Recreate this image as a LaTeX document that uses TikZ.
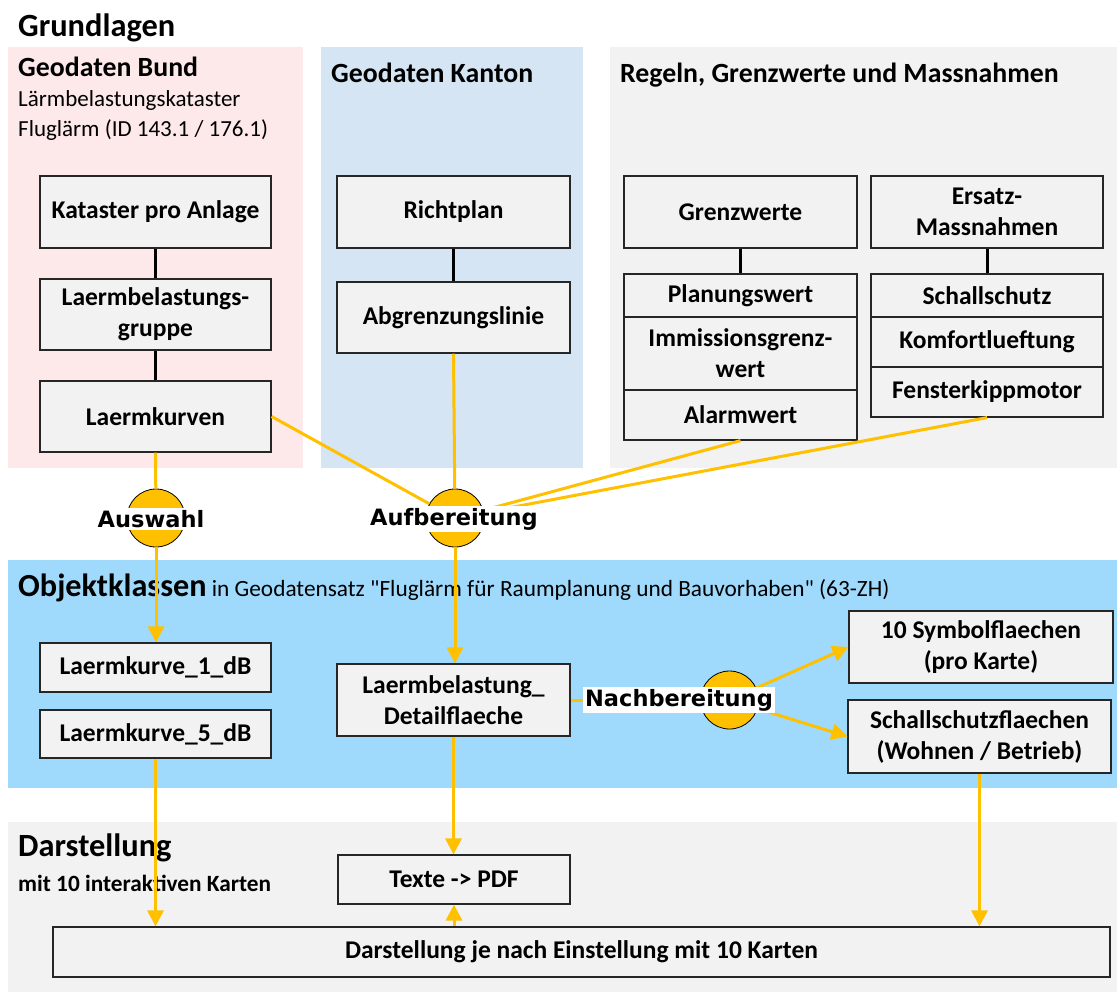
\documentclass[tikz,border=0pt]{standalone}
\usepackage{fontspec}
\setmainfont{Carlito}
\newfontfamily\hubfont{DejaVu Sans}
\usetikzlibrary{arrows.meta}
\definecolor{bundbg}{HTML}{FDE9E9}
\definecolor{kantonbg}{HTML}{D5E5F3}
\definecolor{regelbg}{HTML}{F2F2F2}
\definecolor{objbg}{HTML}{9FDAFD}
\definecolor{flow}{HTML}{FFC000}
\colorlet{boxfill}{regelbg}
\newcommand\fsz[2]{\fontsize{#1}{#2}\selectfont}
\tikzset{
  box/.style={draw=black!85, line width=1.2pt, fill=boxfill, align=center,
    inner sep=0pt, font=\fsz{25.5}{31}\bfseries},
  link/.style={draw=black, line width=3pt},
  flowline/.style={draw=flow, line width=3pt},
  flowarrow/.style={flowline, -{Triangle[length=16pt,width=16pt]}},
  hub/.style={circle, draw=black, line width=0.8pt, fill=flow,
    minimum size=58pt, inner sep=0pt},
  hublabel/.style={fill=white, inner xsep=2pt, inner ysep=2pt,
    font=\hubfont\bfseries\fsz{22.5}{26}},
  head/.style={anchor=base west, inner sep=0pt, font=\bfseries\fsz{27.8}{33}},
  title/.style={anchor=base west, inner sep=0pt, font=\bfseries\fsz{32.4}{38}},
  note/.style={anchor=base west, inner sep=0pt, font=\fsz{23}{28}},
}

\begin{document}
\begin{tikzpicture}[x=1pt,y=-1pt]
\useasboundingbox (0,0) rectangle (1119,994);
\fill[bundbg] (8,47) rectangle (303,468);
\fill[kantonbg] (321,47) rectangle (583,468);
\fill[regelbg] (610,47) rectangle (1117,468);
\fill[objbg] (8,560) rectangle (1117,788);
\fill[regelbg] (8,822) rectangle (1117,992);

\node[title] (tgrund) at (18,36) {Grundlagen};
\node[head] (tbund) at (18,76) {Geodaten Bund};
\node[note] (tbund1) at (18,106) {Lärmbelastungskataster};
\node[note] (tbund2) at (18,136) {Fluglärm (ID 143.1 / 176.1)};
\node[head] (tkanton) at (331,82) {Geodaten Kanton};
\node[head] (tregeln) at (620,82) {Regeln, Grenzwerte und Massnahmen};
\node[note, font=\fsz{23.3}{28}] (tobj) at (18,596) {{\fsz{32.2}{38}\bfseries Objektklassen} in Geodatensatz \textquotedbl Fluglärm für Raumplanung und Bauvorhaben\textquotedbl{} (63-ZH)};
\node[title] (tdar) at (18,856) {Darstellung};
\node[note, font=\bfseries\fsz{23.3}{28}] (tdar1) at (18,891) {mit 10 interaktiven Karten};

\node[box, minimum width=231pt, minimum height=72pt] (kat) at (155.5,212) {Kataster pro Anlage};
\node[box, minimum width=231pt, minimum height=71pt] (lbg) at (155.5,314.5) {Laermbelastungs-\\gruppe};
\node[box, minimum width=231pt, minimum height=71pt] (lkv) at (155.5,416.5) {Laermkurven};
\node[box, minimum width=233pt, minimum height=72pt] (rpl) at (453.5,212) {Richtplan};
\node[box, minimum width=233pt, minimum height=71pt] (abg) at (453.5,317.5) {Abgrenzungslinie};
\node[box, minimum width=233pt, minimum height=72pt] (grw) at (740.5,212) {Grenzwerte};
\node[box, minimum width=233pt, minimum height=43pt] (pw) at (740.5,295.5) {Planungswert};
\node[box, minimum width=233pt, minimum height=73pt] (igw) at (740.5,353.5) {Immissionsgrenz-\\wert};
\node[box, minimum width=233pt, minimum height=50pt] (aw) at (740.5,415) {Alarmwert};
\node[box, minimum width=232pt, minimum height=72pt] (ers) at (987,212) {Ersatz-\\Massnahmen};
\node[box, minimum width=232pt, minimum height=43pt] (ss) at (987,295.5) {Schallschutz};
\node[box, minimum width=232pt, minimum height=50pt] (kl) at (987,342) {Komfortlueftung};
\node[box, minimum width=232pt, minimum height=50pt] (fk) at (987,392) {Fensterkippmotor};

\node[box, minimum width=231pt, minimum height=49pt] (lk1) at (155.5,667.5) {Laermkurve\_1\_dB};
\node[box, minimum width=231pt, minimum height=48pt] (lk5) at (155.5,734) {Laermkurve\_5\_dB};
\node[box, minimum width=233pt, minimum height=72pt] (det) at (453.5,700) {Laermbelastung\_\\Detailflaeche};
\node[box, minimum width=264pt, minimum height=72pt] (sym) at (981,647) {10 Symbolflaechen\\(pro Karte)};
\node[box, minimum width=263pt, minimum height=73pt] (ssf) at (979.5,736.5) {Schallschutzflaechen\\(Wohnen / Betrieb)};
\node[box, minimum width=232pt, minimum height=49pt] (tpdf) at (454,879.5) {Texte -> PDF};
\node[box, minimum width=1057pt, minimum height=50pt] (dar) at (581.5,952) {Darstellung je nach Einstellung mit 10 Karten};

\foreach \a/\b in {kat/lbg, lbg/lkv, rpl/abg, grw/pw, ers/ss}
  \draw[link] (\a.south) -- (\b.north);

\node[hub] (aus) at (156,518) {};
\node[hub] (auf) at (455,518) {};
\node[hub] (nach) at (729.5,700) {};

\foreach \src in {lkv.east, abg.south, aw.south, fk.south}
  \draw[flowline] (\src) -- (auf);
\draw[flowline] (lkv.south) -- (aus);
\draw[flowline] (det.east) -- (nach);
\draw[flowarrow] (aus) -- (aus |- lk1.north);
\draw[flowarrow] (auf) -- (auf |- det.north);
\draw[flowarrow] (nach) -- (sym.west);
\draw[flowarrow] (nach) -- (ssf.west);
\draw[flowarrow] (lk5.south) -- (lk5.south |- dar.north);
\draw[flowarrow] (det.south) -- (det.south |- tpdf.north);
\draw[flowarrow] (tpdf.south |- dar.north) -- (tpdf.south);
\draw[flowarrow] (ssf.south) -- (ssf.south |- dar.north);

\node[hublabel] (laus) at (151,519) {Auswahl};
\node[hublabel] (lauf) at (454,519) {Aufbereitung};
\node[hublabel] (lnach) at (679,700) {Nachbereitung};
\end{tikzpicture}
\end{document}
